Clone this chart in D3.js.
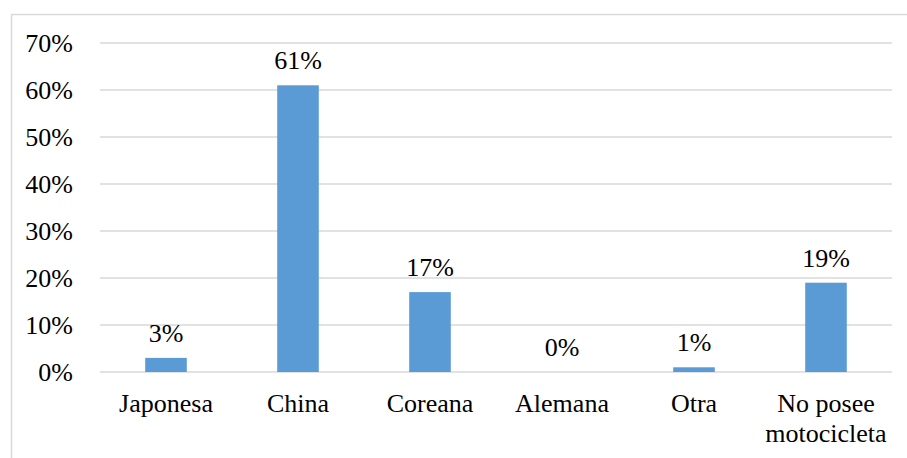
<!DOCTYPE html>
<html>
<head>
<meta charset="utf-8">
<script src="https://cdn.jsdelivr.net/npm/d3@7"></script>
<style>
  .cat text { font-family: "Times New Roman", serif !important; }
</style>
</head>
<body style="margin:0; background:#fff">
<svg id="chart" width="907" height="458" style="display:block"></svg>
<script>
// Marca de la motocicleta
const categories = ["Japonesa", "China", "Coreana", "Alemana", "Otra", "No posee motocicleta"];
const categoryLines = [["Japonesa"], ["China"], ["Coreana"], ["Alemana"], ["Otra"], ["No posee", "motocicleta"]];
const values = [0.03, 0.61, 0.17, 0.00, 0.01, 0.19];
const yTicks = [0, 0.1, 0.2, 0.3, 0.4, 0.5, 0.6, 0.7];

const fontSize = 26;
const svg = d3.select("#chart");
const W = 907, H = 458;
const plot = { left: 100, right: 892, top: 43, bottom: 372 };

// outer frame (left and top edges visible)
svg.append("path")
  .attr("d", `M11.5,${H} L11.5,14.5 L${W},14.5`)
  .attr("fill", "none")
  .attr("stroke", "#d9d9d9")
  .attr("stroke-width", 1.5);

const x = d3.scaleBand()
  .domain(categories)
  .range([plot.left, plot.right])
  .paddingInner(0.685)
  .paddingOuter(0.3425);

const y = d3.scaleLinear()
  .domain([0, 0.7])
  .range([plot.bottom, plot.top]);

// gridlines
svg.append("g")
  .selectAll("line")
  .data(yTicks)
  .join("line")
  .attr("x1", plot.left)
  .attr("x2", plot.right)
  .attr("y1", d => y(d))
  .attr("y2", d => y(d))
  .attr("stroke", "#d9d9d9")
  .attr("stroke-width", 1.5);

// y axis labels
const yAxis = d3.axisLeft(y)
  .tickValues(yTicks)
  .tickFormat(d3.format(".0%"))
  .tickSize(0)
  .tickPadding(0);
const yg = svg.append("g")
  .attr("transform", "translate(73,0)")
  .call(yAxis)
  .attr("font-family", "Liberation Serif")
  .attr("font-size", fontSize);
yg.select(".domain").remove();
yg.selectAll("text").attr("fill", "#000");

// bars
svg.append("g")
  .selectAll("rect")
  .data(values)
  .join("rect")
  .attr("x", (d, i) => x(categories[i]))
  .attr("width", x.bandwidth())
  .attr("y", d => y(d))
  .attr("height", d => y(0) - y(d))
  .attr("fill", "#5b9bd5");

// value labels
svg.append("g")
  .selectAll("text")
  .data(values)
  .join("text")
  .attr("x", (d, i) => x(categories[i]) + x.bandwidth() / 2)
  .attr("y", d => y(d) - 16)
  .attr("text-anchor", "middle")
  .attr("fill", "#000")
  .style("font-family", '"Times New Roman"')
  .style("font-size", fontSize + "px")
  .text(d => d3.format(".0%")(d));

// category labels
const xl = svg.append("g")
  .attr("class", "cat")
  .selectAll("text")
  .data(categories)
  .join("text")
  .attr("x", d => x(d) + x.bandwidth() / 2)
  .attr("y", 412)
  .attr("text-anchor", "middle")
  .attr("fill", "#000")
  .attr("font-size", fontSize);
xl.selectAll("tspan")
  .data((d, i) => categoryLines[i])
  .join("tspan")
  .attr("x", function () { return d3.select(this.parentNode).attr("x"); })
  .attr("dy", (d, i) => i === 0 ? 0 : 30)
  .text(d => d);
</script>
</body>
</html>
